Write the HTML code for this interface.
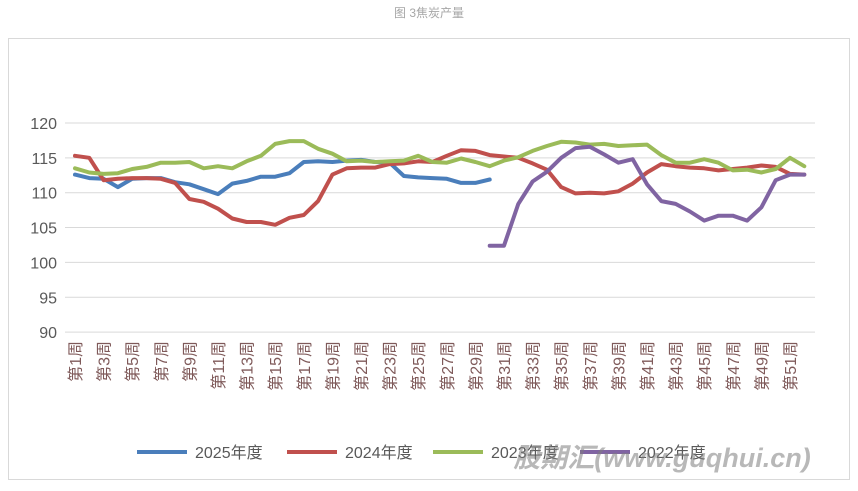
<!DOCTYPE html>
<html><head><meta charset="utf-8"><style>
body{margin:0;background:#fff;width:858px;height:486px;overflow:hidden;font-family:"Liberation Sans","Noto Sans CJK SC",sans-serif}
</style></head><body>
<svg width="858" height="486" style="font-family:'Liberation Sans','Noto Sans CJK SC',sans-serif">
<text x="429" y="17" text-anchor="middle" font-size="12" fill="#a6a6a6">图 3焦炭产量</text>
<rect x="8.5" y="38.5" width="841" height="441" fill="none" stroke="#d9d9d9"/>
<g id="grid"></g><g id="xl"></g><g id="lines"></g>
<g id="legend" font-size="16" fill="#595959"></g>
<text x="662" y="467" text-anchor="middle" font-size="27" font-weight="bold" font-style="italic" fill="#7f7f7f" opacity="0.55">股期汇(www.guqhui.cn)</text>
</svg>
<script>
const weeks=Array.from({length:52},(_,i)=>i+1);
const yTicks=[90,95,100,105,110,115,120];
const s2025=[112.6,112.1,112.0,110.8,112.0,112.1,112.1,111.5,111.2,110.5,109.8,111.3,111.7,112.3,112.3,112.8,114.4,114.5,114.4,114.6,114.7,114.4,114.3,112.4,112.2,112.1,112.0,111.4,111.4,111.9];
const s2024=[115.3,115.0,111.8,112.0,112.1,112.1,112.0,111.4,109.1,108.7,107.7,106.3,105.8,105.8,105.4,106.4,106.8,108.8,112.6,113.5,113.6,113.6,114.1,114.2,114.5,114.4,115.3,116.1,116.0,115.4,115.2,115.0,114.2,113.3,110.8,109.9,110.0,109.9,110.2,111.3,112.9,114.1,113.8,113.6,113.5,113.2,113.4,113.6,113.9,113.7,112.7,112.6];
const s2023=[113.5,112.9,112.7,112.8,113.4,113.7,114.3,114.3,114.4,113.5,113.8,113.5,114.5,115.3,117.0,117.4,117.4,116.3,115.6,114.5,114.6,114.4,114.5,114.6,115.3,114.4,114.3,114.9,114.4,113.8,114.6,115.1,116.0,116.7,117.3,117.2,116.9,117.0,116.7,116.8,116.9,115.4,114.3,114.3,114.8,114.3,113.2,113.3,112.9,113.4,115.0,113.8];
const s2022Start=30;
const s2022=[102.4,102.4,108.4,111.6,113.0,115.0,116.4,116.6,115.5,114.3,114.8,111.2,108.8,108.4,107.3,106.0,106.7,106.7,106.0,107.9,111.8,112.6,112.6];
const NS='http://www.w3.org/2000/svg';
const X=w=>75+(w-1)*14.3, Y=v=>123+(120-v)*6.97;
function mk(t,a,p){const e=document.createElementNS(NS,t);for(const k in a)e.setAttribute(k,a[k]);p.appendChild(e);return e;}
const grid=document.getElementById('grid');
yTicks.forEach(v=>{
 const l=mk('line',{x1:65,x2:815,y1:Y(v),y2:Y(v),stroke:'#d9d9d9','stroke-width':1},grid);
 
 
 const t=mk('text',{x:57,y:Y(v)+6,'text-anchor':'end','font-size':16,fill:'#595959'},grid);
 t.textContent=v;
 
 
});
const xl=document.getElementById('xl');
weeks.filter(w=>w%2==1).forEach(w=>{
 const t=mk('text',{x:0,y:0,'text-anchor':'end','font-size':16,fill:'#7f5a5a',transform:`translate(${X(w)+6},341) rotate(-90)`},xl);
 t.textContent='第'+w+'周';
 
 
});
const lines=document.getElementById('lines');
function draw(arr,start,color,name){
 const d=arr.map((v,i)=>(i?'L':'M')+X(start+i).toFixed(1)+','+Y(v).toFixed(1)).join('');
 const p=mk('path',{d,fill:'none',stroke:color,'stroke-width':4,'stroke-linejoin':'round','stroke-linecap':'round'},lines);
 
 
}
draw(s2025,1,'#4a7ebb','series-2025');
draw(s2024,1,'#c0504d','series-2024');
draw(s2023,1,'#9bbb59','series-2023');
draw(s2022,s2022Start,'#8064a2','series-2022');
const lg=document.getElementById('legend');
[['2025年度','#4a7ebb',137],['2024年度','#c0504d',287],['2023年度','#9bbb59',433],['2022年度','#8064a2',580]].forEach(([n,c,x])=>{
 const g=mk('g',{},lg);
 
 
 mk('line',{x1:x,x2:x+50,y1:452,y2:452,stroke:c,'stroke-width':4},g);
 const t=mk('text',{x:x+58,y:458},g);t.textContent=n;
});
</script>
</body></html>
